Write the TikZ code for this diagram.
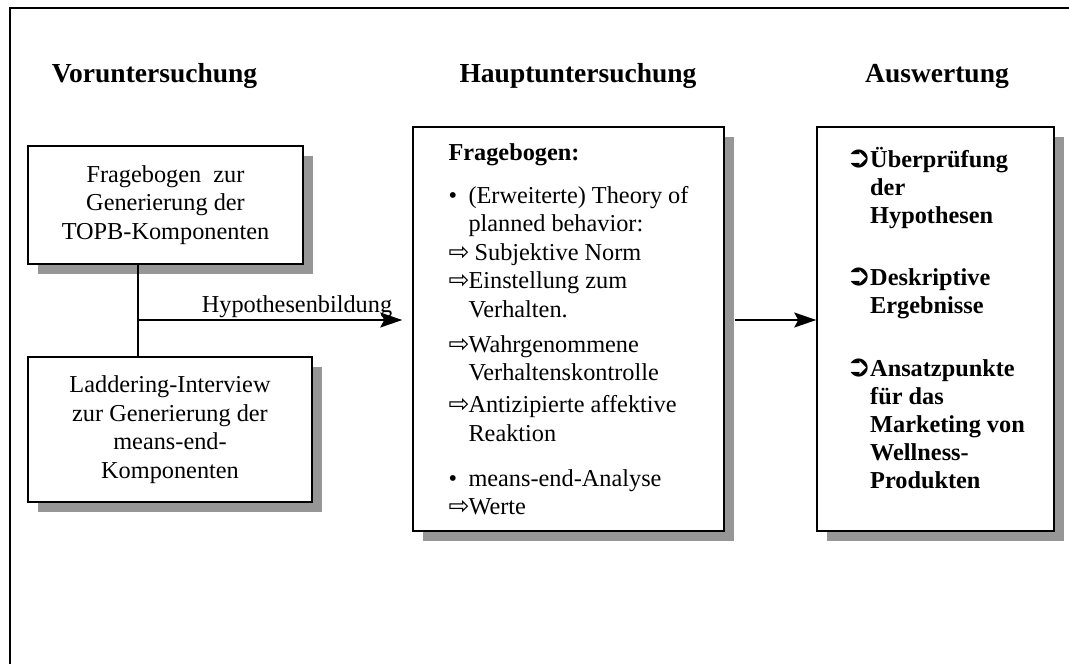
\documentclass[tikz,border=0pt]{standalone}
\usepackage{fontspec}
\setmainfont{Liberation Serif}
\newfontfamily\symfont{DejaVu Sans}
\usepackage{tikz}
\usetikzlibrary{calc,arrows.meta,shadows}
\definecolor{shadowgray}{RGB}{150,150,150}
\newcommand{\punkt}{\makebox[20pt][l]{•}}
\newcommand{\wpfeil}{\makebox[20pt][l]{\symfont\fontsize{25}{25}\selectfont ⇨}}
\newcommand{\zpfeil}{\makebox[24pt][l]{\symfont\bfseries\fontsize{30}{30}\selectfont ➲}}

\begin{document}
\begin{tikzpicture}[x=1pt,y=-1pt,
  box/.style={draw,line width=1.5pt,fill=white,inner sep=0pt,
    font=\fontsize{24.3}{28.5}\selectfont,
    copy shadow={shadow xshift=10pt,shadow yshift=-10pt,draw=none,fill=shadowgray}},
  head/.style={font=\fontsize{27.5}{30}\selectfont\bfseries,anchor=base},
  lbl/.style={font=\fontsize{24.3}{28.5}\selectfont,anchor=base},
  arr/.style={line width=1.2pt,-{Stealth[length=22pt,width=15pt,inset=4pt]}}]
  \useasboundingbox (0,0) rectangle (1069,664);
  \draw[line width=1.5pt] (10,8) rectangle (1090,690);

  \node[head] (vor) at (154.5,82) {Voruntersuchung};
  \node[head] (haupt) at (578,82) {Hauptuntersuchung};
  \node[head] (ausw) at (937,82) {Auswertung};

  \node[box,align=center,minimum width=275pt,minimum height=118pt] (topb) at (165.5,205)
    {Fragebogen\ \ zur\\Generierung der\\TOPB-Komponenten};
  \node[box,align=center,minimum width=284pt,minimum height=145pt] (ladder) at (170,429.5)
    {Laddering-Interview\\zur Generierung der\\means-end-\\Komponenten};

  \node[box,align=left,minimum width=311pt,minimum height=404pt] (bogen) at (568.5,329)
    {\textbf{Fragebogen:}\\[14.5pt]
     \punkt(Erweiterte) Theory of\\
     \hspace*{20pt}planned behavior:\\
     \wpfeil\ Subjektive Norm\\
     \wpfeil Einstellung zum\\
     \hspace*{20pt}Verhalten.\\[6.5pt]
     \wpfeil Wahrgenommene\\
     \hspace*{20pt}Verhaltenskontrolle\\[3.5pt]
     \wpfeil Antizipierte affektive\\
     \hspace*{20pt}Reaktion\\[16.5pt]
     \punkt means-end-Analyse\\
     \wpfeil Werte};

  \node[box,align=left,font=\fontsize{24.3}{28}\selectfont\bfseries,
    minimum width=237pt,minimum height=404pt] (ergeb) at (935.5,329)
    {\zpfeil Überprüfung\\
     \hspace*{24pt}der\\
     \hspace*{24pt}Hypothesen\\[34pt]
     \zpfeil Deskriptive\\
     \hspace*{24pt}Ergebnisse\\[35pt]
     \zpfeil Ansatzpunkte\\
     \hspace*{24pt}für das\\
     \hspace*{24pt}Marketing von\\
     \hspace*{24pt}Wellness-\\
     \hspace*{24pt}Produkten\rule[-22pt]{0pt}{0pt}};

  \coordinate (split) at (138,320);
  \draw[line width=1.2pt] (topb.south -| split) -- (ladder.north -| split);
  \draw[arr,shorten >=10pt] (split) -- (split -| bogen.west);
  \node[lbl] (hyp) at (297,312) {Hypothesenbildung};
  \draw[arr] ($(bogen.east |- split)+(10pt,0)$) -- (ergeb.west |- split);
\end{tikzpicture}
\end{document}
